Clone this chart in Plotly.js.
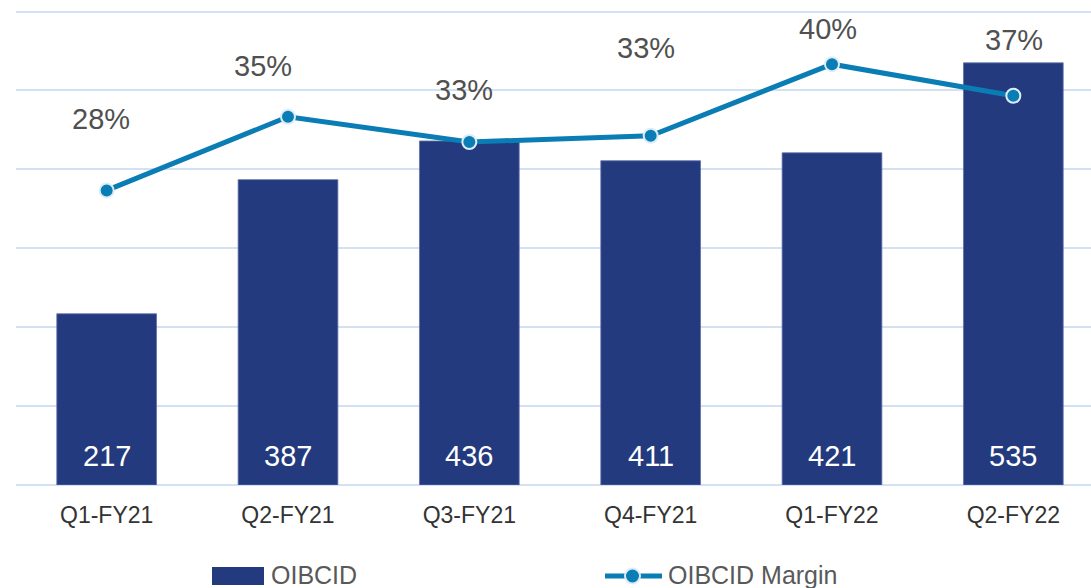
<!DOCTYPE html>
<html>
<head>
<meta charset="utf-8">
<script src="https://cdn.plot.ly/plotly-3.0.1.min.js"></script>
<style>
html,body{margin:0;padding:0;overflow:hidden;background:#fff;}
#chart{width:1110px;height:588px;}
</style>
</head>
<body>
<div id="chart"></div>
<script>
// ---- data ----
var categories = ["Q1-FY21", "Q2-FY21", "Q3-FY21", "Q4-FY21", "Q1-FY22", "Q2-FY22"];
var oibcid = [217, 387, 436, 411, 421, 535];
var margin = [0.28, 0.35, 0.326, 0.332, 0.40, 0.37];
var seriesNames = ["OIBCID", "OIBCID Margin"];

// ---- styles (label offsets in px) ----
var pctShiftY = [71, 51, 52, 88, 35, 56];
var pctShiftX = [-6, -25, -5, -5, -4, 1];

var BAR = "#233b7e", LINE = "#0a7db4", GRID = "#d3e2f3";
var W = 1110, H = 588, ML = 16, MR = 6, MT = 10, MB = 103;
var PW = W - ML - MR, PH = H - MT - MB;
function px(x){ return (x - ML) / PW; }
function py(y){ return (H - MB - y) / PH; }

var bars = {
  type: "bar", x: categories, y: oibcid, name: seriesNames[0],
  marker: {color: BAR, line: {color: "#5f72ab", width: 0.8}},
  hoverinfo: "x+y"
};
var line = {
  type: "scatter", mode: "lines+markers", x: categories, y: margin, yaxis: "y2",
  name: seriesNames[1],
  line: {color: LINE, width: 5},
  marker: {color: LINE, size: 14, line: {color: "#dcecf8", width: 2}}
};

var annotations = [];
categories.forEach(function(c, i){
  annotations.push({
    x: c, y: 0, xref: "x", yref: "y", yanchor: "middle", yshift: 29,
    text: String(oibcid[i]), showarrow: false,
    font: {family: "Liberation Sans, Arial, sans-serif", size: 29, color: "#ffffff"}
  });
  annotations.push({
    x: c, y: margin[i], xref: "x", yref: "y2", yanchor: "middle",
    yshift: pctShiftY[i], xshift: pctShiftX[i],
    text: Math.round(margin[i] * 100) + "%", showarrow: false,
    font: {family: "Liberation Sans, Arial, sans-serif", size: 29, color: "#505050"}
  });
});
// legend texts
annotations.push({x: px(269), y: py(575), xref: "paper", yref: "paper", xanchor: "left", yanchor: "middle",
  text: seriesNames[0], showarrow: false,
  font: {family: "Liberation Sans, Arial, sans-serif", size: 25, color: "#595959"}});
annotations.push({x: px(666), y: py(575), xref: "paper", yref: "paper", xanchor: "left", yanchor: "middle",
  text: seriesNames[1], showarrow: false,
  font: {family: "Liberation Sans, Arial, sans-serif", size: 25, color: "#595959"}});

var shapes = [
  {type: "rect", xref: "paper", yref: "paper", x0: px(212), x1: px(264), y0: py(585), y1: py(567),
   fillcolor: BAR, line: {width: 0}},
  {type: "line", xref: "paper", yref: "paper", x0: px(605), x1: px(662), y0: py(576), y1: py(576),
   line: {color: LINE, width: 5}},
  {type: "circle", xref: "paper", yref: "paper", x0: px(625), x1: px(640), y0: py(583.5), y1: py(568.5),
   fillcolor: LINE, line: {color: "#dcecf8", width: 2}}
];

var layout = {
  width: W, height: H,
  margin: {l: ML, r: MR, t: MT, b: MB},
  paper_bgcolor: "#ffffff", plot_bgcolor: "#ffffff",
  showlegend: false,
  bargap: 0.45,
  xaxis: {
    type: "category", showgrid: false, showline: false, ticks: "",
    ticklabelstandoff: 14,
    tickfont: {family: "Liberation Sans, Arial, sans-serif", size: 23, color: "#333333"}
  },
  yaxis: {
    range: [0, 602], dtick: 100, showticklabels: false, ticks: "",
    showgrid: true, gridcolor: GRID, gridwidth: 2,
    zeroline: true, zerolinecolor: GRID, zerolinewidth: 2, showline: false
  },
  yaxis2: {
    range: [0, 0.4515], overlaying: "y", side: "right",
    showgrid: false, showticklabels: false, zeroline: false, ticks: ""
  },
  annotations: annotations,
  shapes: shapes
};

Plotly.newPlot("chart", [bars, line], layout, {displayModeBar: false, staticPlot: true});
</script>
</body>
</html>
